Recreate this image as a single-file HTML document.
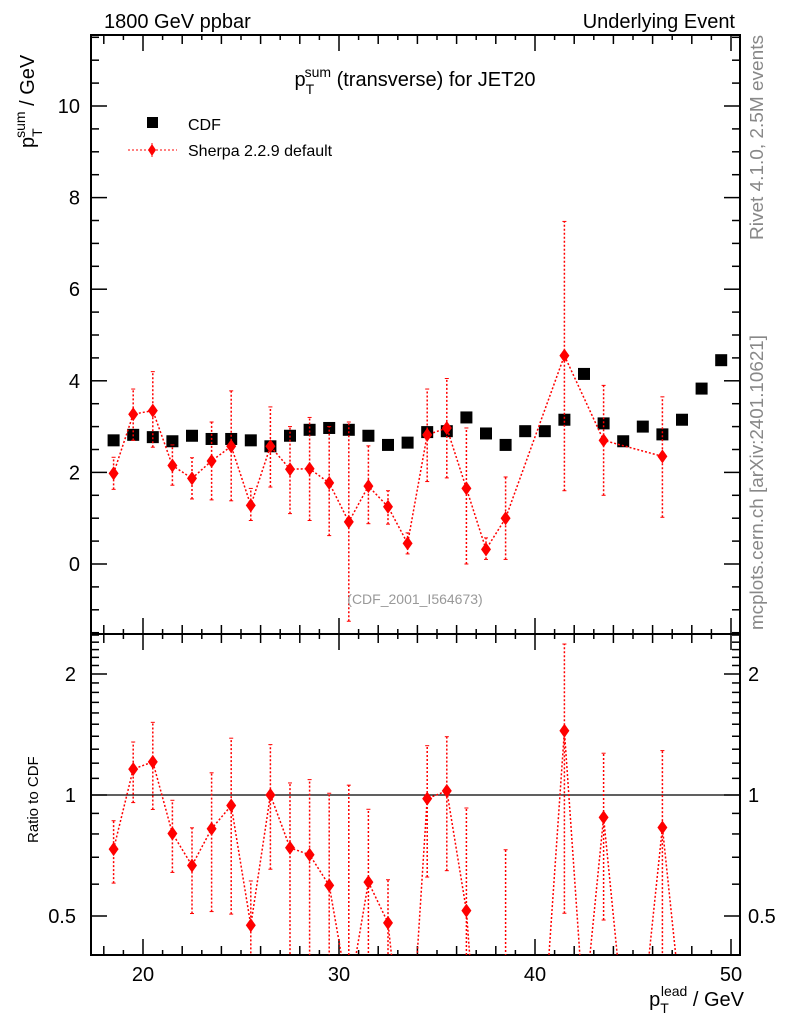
<!DOCTYPE html>
<html><head><meta charset="utf-8"><style>
body{margin:0;background:#fff;overflow:hidden;}
svg{display:block;font-family:"Liberation Sans",sans-serif;}
</style></head><body>
<svg id="c" width="786" height="1024" viewBox="0 0 786 1024">
<defs>
<clipPath id="cm"><rect x="91" y="35" width="649" height="599"/></clipPath>
<clipPath id="cr"><rect x="91" y="635" width="649" height="320"/></clipPath>
</defs>
<g id="axes"></g>
<g id="marks"></g>
<text x="104" y="28" font-size="20">1800 GeV ppbar</text>
<text x="735" y="28" font-size="20" text-anchor="end">Underlying Event</text>
<text x="415" y="86" font-size="20" text-anchor="middle">p<tspan font-size="14" dy="8">T</tspan><tspan font-size="14" dx="-8" dy="-17">sum</tspan><tspan dy="9"> (transverse) for JET20</tspan></text>
<rect x="147" y="117" width="11" height="11" fill="#000"/>
<text x="188" y="130" font-size="16">CDF</text>
<line x1="128" y1="150" x2="177" y2="150" stroke="red" stroke-dasharray="2,2"/>
<line x1="152" y1="143" x2="152" y2="157" stroke="red" stroke-dasharray="2,2"/>
<path d="M152 144 L156 150 L152 156 L148 150Z" fill="red"/>
<text x="188" y="156" font-size="16">Sherpa 2.2.9 default</text>
<text x="415" y="604" font-size="14" fill="#999" text-anchor="middle">(CDF_2001_I564673)</text>
<text transform="translate(763,240) rotate(-90)" font-size="18.5" fill="#888" textLength="205" lengthAdjust="spacingAndGlyphs">Rivet 4.1.0,  2.5M events</text>
<text transform="translate(763,630) rotate(-90)" font-size="18.5" fill="#888" textLength="295" lengthAdjust="spacingAndGlyphs">mcplots.cern.ch [arXiv:2401.10621]</text>
<text transform="translate(34,148) rotate(-90)" font-size="20">p<tspan font-size="14" dy="8">T</tspan><tspan font-size="14" dx="-8" dy="-17">sum</tspan><tspan dy="9"> / GeV</tspan></text>
<text transform="translate(38,843) rotate(-90)" font-size="15">Ratio to CDF</text>
<text x="744" y="1006" font-size="20" text-anchor="end">p<tspan font-size="14" dy="7">T</tspan><tspan font-size="14" dx="-8" dy="-17">lead</tspan><tspan dy="10"> / GeV</tspan></text>
</svg>
<script>
const cdfX=[18.5,19.5,20.5,21.5,22.5,23.5,24.5,25.5,26.5,27.5,28.5,29.5,30.5,31.5,32.5,33.5,34.5,35.5,36.5,37.5,38.5,39.5,40.5,41.5,42.5,43.5,44.5,45.5,46.5,47.5,48.5,49.5];
const cdfY=[2.7,2.82,2.77,2.68,2.8,2.73,2.73,2.7,2.57,2.8,2.93,2.97,2.93,2.8,2.6,2.65,2.88,2.9,3.2,2.85,2.6,2.9,2.9,3.15,4.15,3.07,2.68,3.0,2.83,3.15,3.83,4.45];
const mcX=[18.5,19.5,20.5,21.5,22.5,23.5,24.5,25.5,26.5,27.5,28.5,29.5,30.5,31.5,32.5,33.5,34.5,35.5,36.5,37.5,38.5,41.5,43.5,46.5];
const mcY=[1.98,3.27,3.35,2.15,1.87,2.25,2.57,1.28,2.57,2.07,2.08,1.77,0.92,1.7,1.25,0.45,2.82,2.97,1.65,0.32,1.0,4.55,2.7,2.35];
const mcLo=[1.63,2.7,2.55,1.72,1.42,1.4,1.38,0.95,1.68,1.1,0.95,0.62,-1.25,0.88,0.87,0.22,1.8,1.88,0.0,0.1,0.1,1.6,1.5,1.02];
const mcHi=[2.33,3.82,4.2,2.6,2.32,3.1,3.78,1.65,3.43,3.0,3.2,3.0,3.1,2.58,1.6,0.68,3.82,4.05,2.97,0.57,1.9,7.48,3.9,3.65];
const ratioZeroX=[39.5,40.5,42.5,44.5,45.5,47.5];
const yTicks=[0,2,4,6,8,10];
const rTicks=[0.5,1,2];
const xTicks=[20,30,40,50];

const NS='http://www.w3.org/2000/svg';
const X=v=>143+(v-20)*19.6;
const Y=v=>564-v*45.8;
const R=v=>795-Math.log2(v)*121;
const L=91,RT=740,T=35,MB=634,RB=955;
function mk(p,tag,a){const e=document.createElementNS(NS,tag);for(const k in a)e.setAttribute(k,a[k]);p.appendChild(e);return e;}
const ax=document.getElementById('axes'),mg=document.getElementById('marks');
let f=mk(ax,'rect',{x:L,y:T,width:RT-L,height:MB-T,fill:'none',stroke:'#000','stroke-width':2});


f=mk(ax,'rect',{x:L,y:MB,width:RT-L,height:RB-MB,fill:'none',stroke:'#000','stroke-width':2});


for(let v=18;v<=50;v++){const len=v%10==0?16:(v%2==0?9:5);const x=X(v);
 [[MB,-1],[T,1],[RB,-1],[MB,1]].forEach(([y,d])=>mk(ax,'line',{x1:x,x2:x,y1:y,y2:y+d*len,stroke:'#000','stroke-width':1.5}));}
xTicks.forEach(v=>{const t=mk(ax,'text',{x:X(v),y:981,'font-size':20,'text-anchor':'middle'});t.textContent=v;

});
for(let v=-1.5;v<=11.5;v+=0.5){const len=Math.abs(v%2)<1e-9?16:8;const y=Y(v);
 mk(ax,'line',{x1:L,x2:L+len,y1:y,y2:y,stroke:'#000','stroke-width':1.5});mk(ax,'line',{x1:RT,x2:RT-len,y1:y,y2:y,stroke:'#000','stroke-width':1.5});}
yTicks.forEach(v=>{const t=mk(ax,'text',{x:80,y:Y(v)+7,'font-size':20,'text-anchor':'end'});t.textContent=v;

});
[0.5,0.6,0.7,0.8,0.9,1,1.1,1.2,1.3,1.4,1.5,1.6,1.7,1.8,1.9,2,2.1,2.2,2.3,2.4,2.5].forEach(v=>{const len=[0.5,1,2].includes(v)?16:8;const y=R(v);
 mk(ax,'line',{x1:L,x2:L+len,y1:y,y2:y,stroke:'#000','stroke-width':1.5});mk(ax,'line',{x1:RT,x2:RT-len,y1:y,y2:y,stroke:'#000','stroke-width':1.5});});
rTicks.forEach(v=>{[[76,'end'],[748,'start']].forEach(([x,a])=>{const t=mk(ax,'text',{x:x,y:R(v)+7,'font-size':20,'text-anchor':a});t.textContent=v;

});});
mk(ax,'line',{x1:L,x2:RT,y1:R(1),y2:R(1),stroke:'#000','stroke-width':1.2});
const gm=mk(mg,'g',{'clip-path':'url(#cm)'});
cdfX.forEach((x,i)=>{const r=mk(gm,'rect',{x:X(x)-6,y:Y(cdfY[i])-6,width:12,height:12,fill:'#000'});

});
function series(g,xs,ys,lo,hi,fy,name,lineXs,lineYs){
 const pts=lineXs.map((x,i)=>X(x)+','+fy(lineYs[i])).join(' ');
 const pl=mk(g,'polyline',{points:pts,fill:'none',stroke:'red','stroke-width':1.5,'stroke-dasharray':'2,2'});
 
 
 xs.forEach((x,i)=>{const cx=X(x),cy=fy(ys[i]);
  const a=fy(lo[i]),b=fy(hi[i]);
  mk(g,'line',{x1:cx,x2:cx,y1:a,y2:b,stroke:'red','stroke-width':1.5,'stroke-dasharray':'2,2'});
  mk(g,'line',{x1:cx-2,x2:cx+2,y1:a,y2:a,stroke:'red','stroke-width':1});
  mk(g,'line',{x1:cx-2,x2:cx+2,y1:b,y2:b,stroke:'red','stroke-width':1});
  const p=mk(g,'path',{d:`M${cx} ${cy-7}L${cx+5} ${cy}L${cx} ${cy+7}L${cx-5} ${cy}Z`,fill:'red'});
  
  });
}
series(gm,mcX,mcY,mcLo,mcHi,Y,'sherpa',mcX,mcY);
const gr=mk(mg,'g',{'clip-path':'url(#cr)'});
const cdfAt=x=>cdfY[cdfX.indexOf(x)];
const RY=v=>v<=0.01?1015:Math.min(R(v),1200);
const rY=mcY.map((v,i)=>v/cdfAt(mcX[i]));
const rLo=mcLo.map((v,i)=>v/cdfAt(mcX[i]));
const rHi=mcHi.map((v,i)=>v/cdfAt(mcX[i]));
const comb=mcX.map((x,i)=>[x,rY[i]]).concat(ratioZeroX.map(x=>[x,0])).sort((a,b)=>a[0]-b[0]);
series(gr,mcX,rY,rLo,rHi,RY,'ratio',comb.map(c=>c[0]),comb.map(c=>c[1]));
</script>
</body></html>
